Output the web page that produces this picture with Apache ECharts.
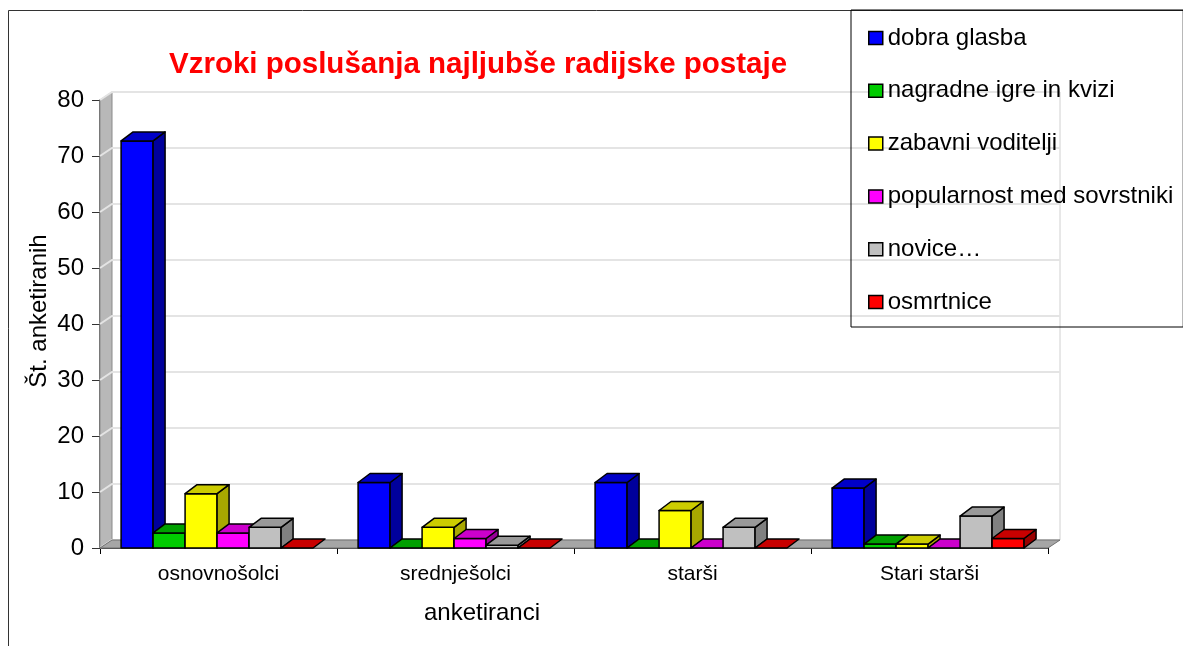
<!DOCTYPE html>
<html>
<head>
<meta charset="utf-8">
<script src="https://cdn.jsdelivr.net/npm/echarts@6/dist/echarts.min.js"></script>
<style>
  html, body { margin: 0; padding: 0; background: #fff; }
  #chart { width: 1183px; height: 646px; }
</style>
</head>
<body>
<div id="chart"></div>
<script>
// podatki
const categories = ["osnovnošolci", "srednješolci", "starši", "Stari starši"]
const seriesNames = ["dobra glasba", "nagradne igre in kvizi", "zabavni voditelji", "popularnost med sovrstniki", "novice…", "osmrtnice"]
const dobraGlasba = [72.7, 11.7, 11.7, 10.7]
const nagradneIgre = [2.7, 0, 0, 0.7]
const zabavniVoditelji = [9.7, 3.7, 6.7, 0.7]
const popularnost = [2.7, 1.7, 0, 0]
const novice = [3.7, 0.5, 3.7, 5.7]
const osmrtnice = [0, 0, 0, 1.7]
const yTicks = [0, 10, 20, 30, 40, 50, 60, 70, 80]

const seriesValues = [dobraGlasba, nagradneIgre, zabavniVoditelji, popularnost, novice, osmrtnice]
const palette = [
  { front: "#0000ff", top: "#0000c8", side: "#00009c" },
  { front: "#00cc00", top: "#00a000", side: "#007a00" },
  { front: "#ffff00", top: "#cccc00", side: "#a8a800" },
  { front: "#ff00ff", top: "#cc00cc", side: "#990099" },
  { front: "#c0c0c0", top: "#999999", side: "#808080" },
  { front: "#ff0000", top: "#c80000", side: "#990000" }
]

const FONT = "'Liberation Sans', Arial, sans-serif"
const DX = 12, DY = 9   // globina stolpcev
const WDX = 12, WDY = 8 // globina sten

const chart = echarts.init(document.getElementById("chart"))

// stene, tla in mrezne crte
const wallSeries = {
  type: "custom",
  name: "_wall",
  silent: true,
  z: 1,
  data: yTicks.map((v) => [0, v]),
  encode: { x: 0, y: 1 },
  renderItem: (params, api) => {
    const cs = params.coordSys
    const x0 = cs.x, x1 = cs.x + cs.width
    const yTop = cs.y, y0 = cs.y + cs.height
    const y = api.coord([0, api.value(1)])[1]
    const kids = [{
      type: "polyline",
      z2: 2,
      shape: { points: [[x0, y], [x0 + WDX, y - WDY], [x1 + WDX, y - WDY]] },
      style: { stroke: "#e4e4e4", lineWidth: 2, fill: null }
    }]
    if (params.dataIndex === 0) {
      kids.push({
        type: "polygon", z2: 1,
        shape: { points: [[x0, y0], [x0, yTop], [x0 + WDX, yTop - WDY], [x0 + WDX, y0 - WDY]] },
        style: { fill: "#b8b8b8", stroke: "#8a8a8a", lineWidth: 1 }
      })
      kids.push({
        type: "polygon", z2: 3,
        shape: { points: [[x0, y0], [x1, y0], [x1 + WDX, y0 - WDY], [x0 + WDX, y0 - WDY]] },
        style: { fill: "#a6a6a6", stroke: "#707070", lineWidth: 1 }
      })
      kids.push({
        type: "polyline", z2: 0,
        shape: { points: [[x0 + WDX, yTop - WDY], [x1 + WDX, yTop - WDY], [x1 + WDX, y0 - WDY]] },
        style: { stroke: "#d0d0d0", lineWidth: 1, fill: null }
      })
    }
    return { type: "group", children: kids }
  }
}

const barRender = (k) => (params, api) => {
  const cat = api.value(0), val = api.value(1)
  const p0 = api.coord([cat, 0]), p1 = api.coord([cat, val])
  const band = api.size([1, 0])[0]
  const w = band * 0.135
  const x = p0[0] - band / 2 + band * 0.089 + k * w
  const yb = p0[1], yt = p1[1]
  const c = palette[k]
  const st = { stroke: "#000", lineWidth: 1.5, lineJoin: "round" }
  const kids = []
  if (yb - yt > 0.5) {
    kids.push({ type: "rect", shape: { x: x, y: yt, width: w, height: yb - yt }, style: Object.assign({ fill: c.front }, st) })
    kids.push({ type: "polygon", shape: { points: [[x + w, yt], [x + w + DX, yt - DY], [x + w + DX, yb - DY], [x + w, yb]] }, style: Object.assign({ fill: c.side }, st) })
  }
  kids.push({ type: "polygon", shape: { points: [[x, yt], [x + DX, yt - DY], [x + w + DX, yt - DY], [x + w, yt]] }, style: Object.assign({ fill: c.top }, st) })
  return { type: "group", children: kids }
}

const barSeries = seriesNames.map((name, k) => ({
  type: "custom",
  name: name,
  z: 3,
  data: seriesValues[k].map((v, i) => [i, v]),
  encode: { x: 0, y: 1 },
  itemStyle: { color: palette[k].front },
  renderItem: barRender(k)
}))

const option = {
  animation: false,
  textStyle: { fontFamily: FONT },
  title: {
    text: "Vzroki poslušanja najljubše radijske postaje",
    left: 164,
    top: 45,
    textStyle: { color: "#ff0000", fontSize: 29.5, fontWeight: "bold", fontFamily: FONT }
  },
  legend: {
    orient: "vertical",
    left: 851,
    top: 10,
    padding: [16, 10, 13, 17],
    borderColor: "#000",
    borderWidth: 1,
    itemWidth: 14,
    itemHeight: 13,
    itemGap: 28.8,
    selectedMode: false,
    textStyle: { fontSize: 24, color: "#000", fontFamily: FONT },
    data: seriesNames.map((n, k) => ({
      name: n,
      icon: "rect",
      itemStyle: { color: palette[k].front, borderColor: "#000", borderWidth: 1.5 }
    }))
  },
  grid: { left: 100, right: 135, top: 100, bottom: 98 },
  xAxis: {
    type: "category",
    data: categories,
    axisLine: { lineStyle: { color: "#000", width: 1.5 } },
    axisTick: { show: true, length: 6, lineStyle: { color: "#000" } },
    axisLabel: { fontSize: 21, color: "#000", margin: 16, fontFamily: FONT },
    splitLine: { show: false }
  },
  yAxis: {
    type: "value",
    min: 0,
    max: 80,
    interval: 10,
    axisLine: { show: true, lineStyle: { color: "#333", width: 1.5 } },
    axisTick: { show: true, length: 8, lineStyle: { color: "#333" } },
    axisLabel: { fontSize: 24, color: "#000", margin: 16, fontFamily: FONT },
    splitLine: { show: false }
  },
  graphic: [
    {
      type: "rect",
      silent: true,
      shape: { x: 8.5, y: 10.5, width: 1400, height: 1000 },
      style: { fill: null, stroke: "#333", lineWidth: 1 }
    },
    {
      type: "text",
      x: 482,
      y: 613,
      style: { text: "anketiranci", font: "24px " + FONT, fill: "#000", textAlign: "center", textVerticalAlign: "middle" }
    },
    {
      type: "text",
      x: 39,
      y: 311,
      rotation: Math.PI / 2,
      style: { text: "Št. anketiranih", font: "24px " + FONT, fill: "#000", textAlign: "center", textVerticalAlign: "middle" }
    }
  ],
  series: [wallSeries].concat(barSeries)
}

chart.setOption(option)
window.addEventListener("resize", () => chart.resize())
</script>
</body>
</html>
